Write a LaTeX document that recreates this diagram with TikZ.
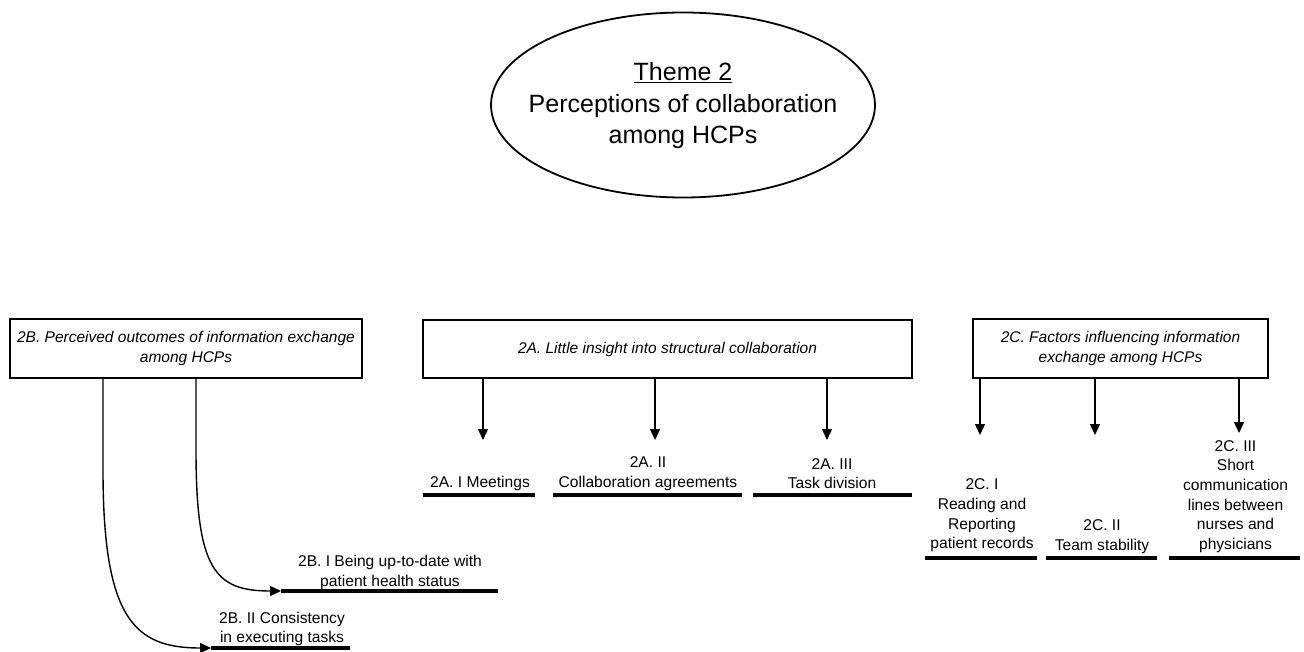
\documentclass[tikz,border=0pt]{standalone}
\usepackage{fontspec}
\setmainfont{Liberation Sans}
\usetikzlibrary{shapes.geometric,arrows.meta}
\tikzset{
  themetext/.style={align=center, inner sep=0pt, font=\fontsize{25}{31.5}\selectfont},
  themering/.style={line width=1.8pt},
  catbox/.style={draw, line width=2pt, align=center, inner sep=0pt, font=\fontsize{15.5}{20.5}\selectfont\itshape},
  sublabel/.style={align=center, inner sep=0pt, font=\fontsize{15.6}{19.6}\selectfont},
  bar/.style={line width=4.4pt},
  conn/.style={line width=1.4pt, -{Triangle[length=11pt,width=10pt]}}
}
\begin{document}
\begin{tikzpicture}[x=1pt,y=-1pt]
\useasboundingbox (0,0) rectangle (1304,652);
% theme
\node[themetext] (theme) at (683,106) {\underline{Theme 2}\\Perceptions of collaboration\\among HCPs};
\draw[themering] (683,105) ellipse [x radius=192, y radius=92.5];
% category boxes
\node[catbox, minimum width=352pt, minimum height=59pt] (boxB) at (186,348.5) {2B. Perceived outcomes of information exchange\\among HCPs};
\node[catbox, minimum width=489pt, minimum height=58pt] (boxA) at (667.5,349) {2A. Little insight into structural collaboration};
\node[catbox, minimum width=295pt, minimum height=59pt] (boxC) at (1120.5,348.5) {2C. Factors influencing information\\exchange among HCPs};
% sub labels
\node[sublabel] (bI) at (390,572.5) {2B. I Being up-to-date with\\patient health status};
\node[sublabel] (bII) at (282,629) {2B. II Consistency\\in executing tasks};
\node[sublabel] (aI) at (480,483) {2A. I Meetings};
\node[sublabel] (aII) at (648,473.5) {2A. II\\Collaboration agreements};
\node[sublabel] (aIII) at (832,473.5) {2A. III\\Task division};
\node[sublabel] (cI) at (982,515.5) {2C. I\\Reading and\\Reporting\\patient records};
\node[sublabel] (cII) at (1102,536.5) {2C. II\\Team stability};
\node[sublabel] (cIII) at (1235.5,496.5) {2C. III\\Short\\communication\\lines between\\nurses and\\physicians};
% bars
\coordinate (bIa) at (281,591); \coordinate (bIb) at (498,591);
\coordinate (bIIa) at (211,648); \coordinate (bIIb) at (350,648);
\coordinate (aIa) at (423,495); \coordinate (aIb) at (535,495);
\coordinate (aIIa) at (553,495); \coordinate (aIIb) at (742,495);
\coordinate (aIIIa) at (753,495); \coordinate (aIIIb) at (912,495);
\coordinate (cIa) at (925,558); \coordinate (cIb) at (1037,558);
\coordinate (cIIa) at (1046,558); \coordinate (cIIb) at (1157,558);
\coordinate (cIIIa) at (1169,558); \coordinate (cIIIb) at (1300,558);
\foreach \p in {bI,bII,aI,aII,aIII,cI,cII,cIII} \draw[bar] (\p a) -- (\p b);
% arrow tips
\coordinate (tA1) at (483,440);
\coordinate (tA2) at (655,440);
\coordinate (tA3) at (827,440);
\coordinate (tC1) at (980,435);
\coordinate (tC2) at (1095,435);
\coordinate (tC3) at (1239,433);
\foreach \t in {tA1,tA2,tA3} \draw[conn] (boxA.south -| \t) -- (\t);
\foreach \t in {tC1,tC2,tC3} \draw[conn] (boxC.south -| \t) -- (\t);
% curved arrows from 2B
\coordinate (sB1) at (103,378);
\coordinate (sB2) at (196,378);
\draw[conn] (boxB.south -| sB2) -- (196,450) .. controls (196,570) and (215,591) .. (bIa);
\draw[conn] (boxB.south -| sB1) -- (103,470) .. controls (103,620) and (135,648) .. (bIIa);
\end{tikzpicture}
\end{document}
